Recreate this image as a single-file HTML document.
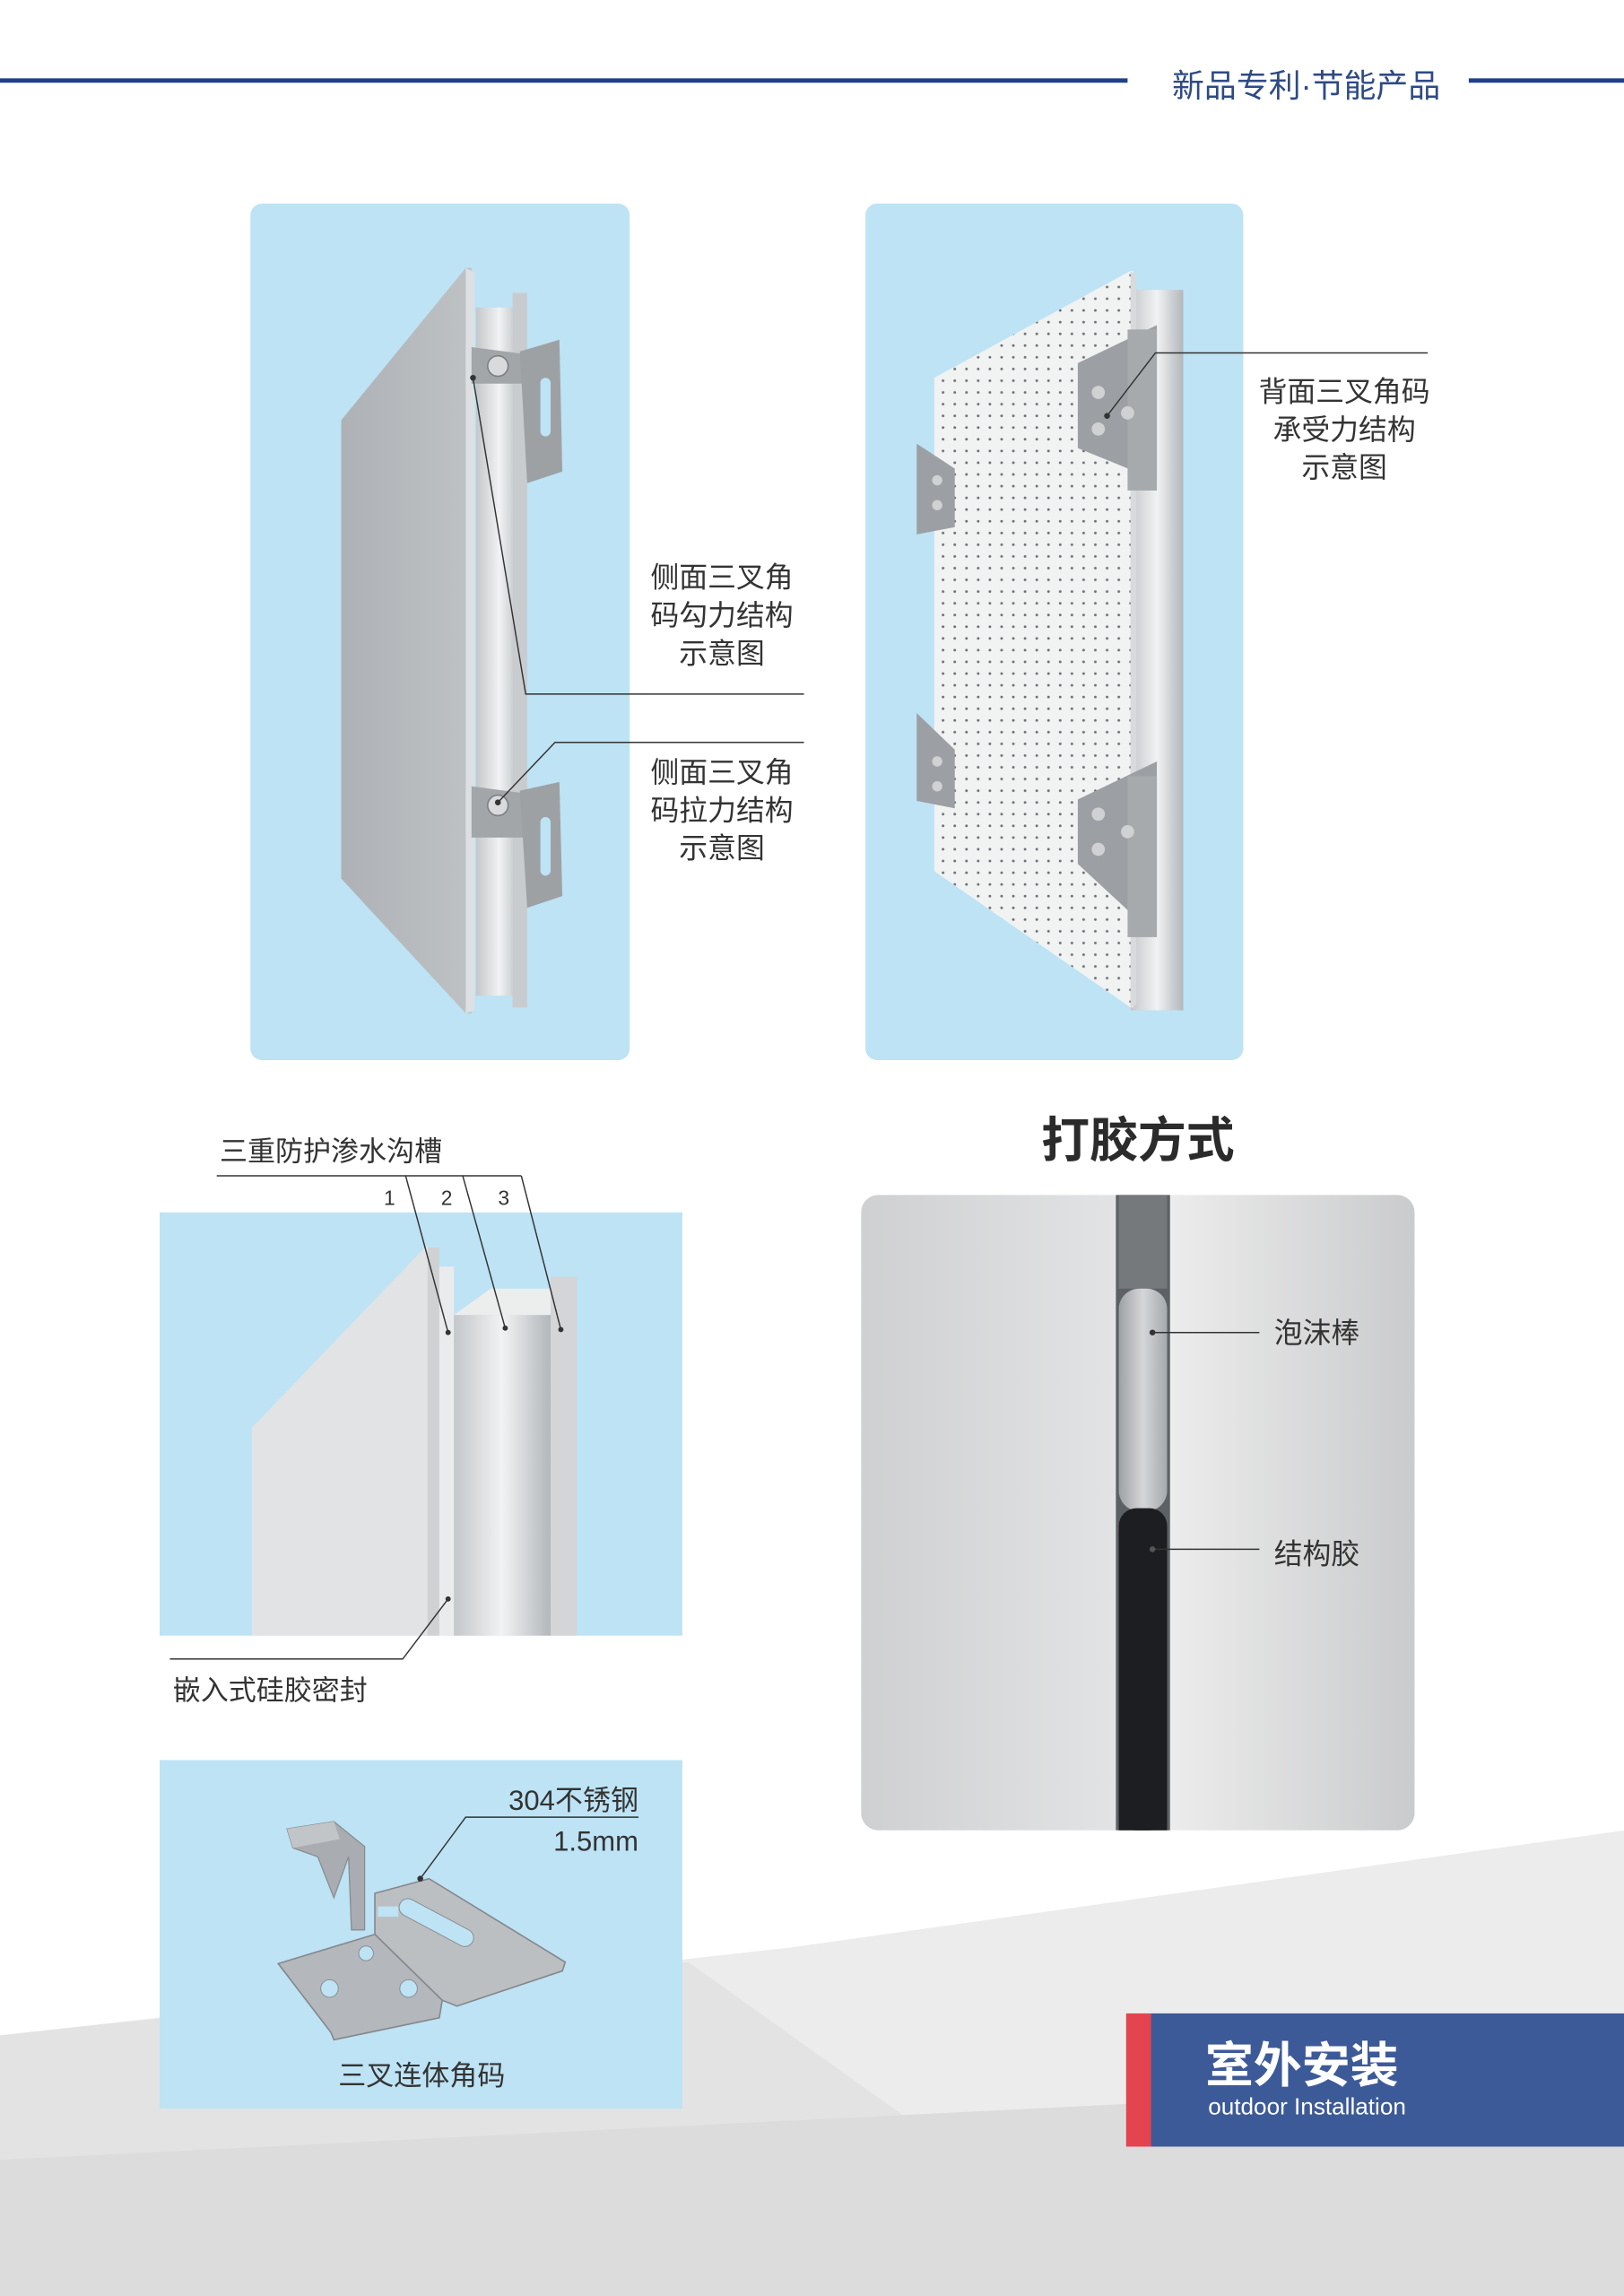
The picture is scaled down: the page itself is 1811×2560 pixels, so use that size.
<!DOCTYPE html>
<html><head><meta charset="utf-8"><style>
html,body{margin:0;padding:0;background:#fff;}
svg{display:block}
text{font-family:"Liberation Sans","Noto Sans CJK SC",sans-serif;}
</style></head><body>
<svg width="1811" height="2560" viewBox="0 0 1109 1568" preserveAspectRatio="none" xmlns="http://www.w3.org/2000/svg">
<defs>
<linearGradient id="metal" x1="0" x2="1"><stop offset="0" stop-color="#c4c7ca"/><stop offset="0.5" stop-color="#f1f2f3"/><stop offset="1" stop-color="#b3b7ba"/></linearGradient>
<linearGradient id="plate" x1="0" x2="1"><stop offset="0" stop-color="#aeb1b5"/><stop offset="1" stop-color="#bfc2c5"/></linearGradient>
<linearGradient id="gl" x1="0" x2="1"><stop offset="0" stop-color="#cfd0d1"/><stop offset="1" stop-color="#e2e3e4"/></linearGradient>
<linearGradient id="gr" x1="0" x2="1"><stop offset="0" stop-color="#ececec"/><stop offset="1" stop-color="#cacbcc"/></linearGradient>
<linearGradient id="foam" x1="0" x2="1"><stop offset="0" stop-color="#9ea1a5"/><stop offset="0.5" stop-color="#d4d6d8"/><stop offset="1" stop-color="#a6a9ad"/></linearGradient>
<pattern id="dots" width="8" height="8" patternUnits="userSpaceOnUse"><rect width="8" height="8" fill="#f1f2f2"/><circle cx="4" cy="4" r="0.9" fill="#6d7074"/></pattern>
<clipPath id="pc"><rect x="588" y="816" width="378" height="434" rx="12"/></clipPath>
</defs>

<!-- bottom background -->
<polygon points="0,1390 540,1330 1109,1250 1109,1568 0,1568" fill="#ececec"/>
<polygon points="0,1390 470,1340 790,1568 0,1568" fill="#e3e3e4"/>
<polygon points="0,1475 1109,1420 1109,1568 0,1568" fill="#dcdcdd"/>

<!-- header -->
<rect x="0" y="53.5" width="770" height="3" fill="#1f3f8a"/>
<rect x="1003" y="53.5" width="106" height="3" fill="#1f3f8a"/>
<text x="892" y="66" font-size="22" fill="#2e4a85" text-anchor="middle">新品专利·节能产品</text>

<!-- left top panel -->
<rect x="171" y="139" width="259" height="585" rx="8" fill="#bde3f5"/>
<polygon points="233,287 318,183 322,183 322,692 318,692 233,600" fill="url(#plate)"/>
<polygon points="318,183 324,186 324,690 318,692" fill="#dde0e2"/>
<rect x="325" y="210" width="32" height="470" fill="url(#metal)"/>
<rect x="350" y="200" width="10" height="488" fill="#c9ccce"/>
<polygon points="322,237 360,242 360,262 322,262" fill="#a3a6a9"/>
<polygon points="355,240 382,232 384,322 360,330" fill="#9ea1a4"/>
<rect x="369" y="258" width="7" height="40" rx="3.5" fill="#bde3f5"/>
<circle cx="340" cy="250" r="7" fill="#d8dadc" stroke="#7c8084"/>
<polygon points="322,537 360,542 360,572 322,572" fill="#a3a6a9"/>
<polygon points="355,540 382,534 384,612 360,620" fill="#9ea1a4"/>
<rect x="369" y="558" width="7" height="40" rx="3.5" fill="#bde3f5"/>
<circle cx="340" cy="550" r="7" fill="#d8dadc" stroke="#7c8084"/>

<!-- left labels -->
<polyline points="323,258 359,474 549,474" fill="none" stroke="#333" stroke-width="0.9"/>
<circle cx="323" cy="258" r="2" fill="#333"/>
<polyline points="340,548 379,507 549,507" fill="none" stroke="#333" stroke-width="0.9"/>
<circle cx="340" cy="548" r="2" fill="#333"/>
<g font-size="19.5" fill="#333" text-anchor="middle">
<text x="493" y="401">侧面三叉角</text><text x="493" y="427">码勾力结构</text><text x="493" y="453">示意图</text>
<text x="493" y="534">侧面三叉角</text><text x="493" y="560">码拉力结构</text><text x="493" y="586">示意图</text>
<text x="918" y="274">背面三叉角码</text><text x="918" y="300">承受力结构</text><text x="918" y="326">示意图</text>
</g>

<!-- right top panel -->
<rect x="591" y="139" width="258" height="585" rx="8" fill="#bde3f5"/>
<rect x="772" y="198" width="36" height="492" fill="url(#metal)"/>
<polygon points="638,258 772,185 774,185 774,688 772,688 638,595" fill="url(#dots)"/>
<polygon points="772,185 776,188 776,686 772,688" fill="#d8dadc"/>
<polygon points="736,248 790,222 790,328 736,306" fill="#9c9fa3"/>
<rect x="770" y="225" width="20" height="110" fill="#a7aaad"/>
<circle cx="750" cy="268" r="4.5" fill="#cfd1d3"/><circle cx="750" cy="293" r="4.5" fill="#cfd1d3"/><circle cx="770" cy="282" r="4.5" fill="#cfd1d3"/>
<polygon points="736,546 790,520 790,640 736,590" fill="#9c9fa3"/>
<rect x="770" y="530" width="20" height="110" fill="#a7aaad"/>
<circle cx="750" cy="556" r="4.5" fill="#cfd1d3"/><circle cx="750" cy="580" r="4.5" fill="#cfd1d3"/><circle cx="770" cy="568" r="4.5" fill="#cfd1d3"/>
<polygon points="626,303 652,320 652,360 626,365" fill="#9c9fa3"/>
<circle cx="640" cy="328" r="3.5" fill="#cfd1d3"/><circle cx="640" cy="345" r="3.5" fill="#cfd1d3"/>
<polygon points="626,487 652,512 652,552 626,547" fill="#9c9fa3"/>
<circle cx="640" cy="520" r="3.5" fill="#cfd1d3"/><circle cx="640" cy="537" r="3.5" fill="#cfd1d3"/>
<polyline points="756,284 789,241 975,241" fill="none" stroke="#333" stroke-width="0.9"/>
<circle cx="756" cy="284" r="2" fill="#333"/>

<!-- lower left panel -->
<rect x="109" y="828" width="357" height="289" fill="#bde3f5"/>
<polygon points="172,975 292,850 292,1117 172,1117" fill="#e2e3e5"/>
<rect x="292" y="852" width="8" height="265" fill="#cfd1d3"/>
<rect x="300" y="865" width="10" height="252" fill="#eaebec"/>
<rect x="310" y="898" width="66" height="219" fill="url(#metal)"/>
<polygon points="310,898 335,880 380,880 376,898" fill="#eceded"/>
<rect x="376" y="872" width="18" height="245" fill="#d3d5d7"/>
<polyline points="148,803 356,803" fill="none" stroke="#333" stroke-width="0.9"/>
<line x1="277" y1="803" x2="306" y2="910" stroke="#333" stroke-width="0.9"/>
<line x1="316" y1="803" x2="345" y2="907" stroke="#333" stroke-width="0.9"/>
<line x1="356" y1="803" x2="383" y2="908" stroke="#333" stroke-width="0.9"/>
<circle cx="306" cy="910" r="1.8" fill="#333"/><circle cx="345" cy="907" r="1.8" fill="#333"/><circle cx="383" cy="908" r="1.8" fill="#333"/>
<text x="150" y="793" font-size="19" fill="#333">三重防护渗水沟槽</text>
<g font-size="14" fill="#333" text-anchor="middle"><text x="266" y="823">1</text><text x="305" y="823">2</text><text x="344" y="823">3</text></g>
<polyline points="306,1092 275,1133 116,1133" fill="none" stroke="#333" stroke-width="0.9"/>
<circle cx="306" cy="1092" r="1.8" fill="#333"/>
<text x="118" y="1161" font-size="19" fill="#333">嵌入式硅胶密封</text>

<!-- bracket panel -->
<rect x="109" y="1202" width="357" height="238" fill="#bde3f5"/>
<!-- hook -->
<polygon points="196,1249 228,1244 249,1261 249,1318 240,1318 238,1268 228,1296 217,1268 200,1262" fill="#a9acb0" stroke="#8a8d91" stroke-width="0.8"/>
<polygon points="196,1249 228,1244 232,1256 200,1262" fill="#c2c5c8"/>
<!-- lower plate -->
<polygon points="190,1341 256,1321 302,1366 300,1378 228,1393 226,1388" fill="#b4b7bb" stroke="#85888c" stroke-width="1"/>
<!-- upper plate -->
<polygon points="256,1293 293,1283 386,1340 384,1346 312,1370 302,1366 256,1321" fill="#bcbfc2" stroke="#85888c" stroke-width="1"/>
<rect x="270" y="1307" width="56" height="12" rx="6" transform="rotate(28 298 1313)" fill="#bde3f5" stroke="#8a8d91" stroke-width="0.6"/>
<rect x="258" y="1302" width="14" height="7" fill="#bde3f5"/>
<circle cx="225" cy="1358" r="6" fill="#bde3f5" stroke="#8a8d91" stroke-width="0.6"/>
<circle cx="250" cy="1334" r="5" fill="#bde3f5" stroke="#8a8d91" stroke-width="0.6"/>
<circle cx="279" cy="1358" r="6" fill="#bde3f5" stroke="#8a8d91" stroke-width="0.6"/>
<polyline points="287,1283 318,1241 436,1241" fill="none" stroke="#333" stroke-width="0.9"/>
<circle cx="287" cy="1283" r="2" fill="#333"/>
<text x="436" y="1236" font-size="19" fill="#333" text-anchor="end">304不锈钢</text>
<text x="436" y="1264" font-size="19" fill="#333" text-anchor="end">1.5mm</text>
<text x="288" y="1424" font-size="19" fill="#333" text-anchor="middle">三叉连体角码</text>

<!-- sealing photo -->
<text x="777" y="790" font-size="33" font-weight="bold" fill="#2b2b2b" text-anchor="middle">打胶方式</text>
<g clip-path="url(#pc)">
<rect x="588" y="816" width="174" height="434" fill="url(#gl)"/>
<rect x="799" y="816" width="167" height="434" fill="url(#gr)"/>
<rect x="762" y="816" width="37" height="434" fill="#5d6064"/>
<rect x="764" y="816" width="33" height="64" fill="#76797c"/>
<rect x="764" y="880" width="33" height="152" rx="14" fill="url(#foam)"/>
<rect x="764" y="1030" width="33" height="220" rx="12" fill="#1c1e22"/>
<rect x="764" y="1045" width="33" height="205" fill="#1c1e22"/>
</g>
<line x1="787" y1="910" x2="860" y2="910" stroke="#333" stroke-width="0.9"/>
<circle cx="787" cy="910" r="2" fill="#333"/>
<line x1="787" y1="1058" x2="860" y2="1058" stroke="#333" stroke-width="0.9"/>
<circle cx="787" cy="1058" r="2" fill="#555"/>
<text x="870" y="917" font-size="19.5" fill="#333">泡沫棒</text>
<text x="870" y="1068" font-size="19.5" fill="#333">结构胶</text>

<!-- badge -->
<rect x="769" y="1375" width="17" height="91" fill="#e4444f"/>
<rect x="786" y="1375" width="323" height="91" fill="#3d5a98"/>
<text x="823" y="1422" font-size="33" font-weight="bold" fill="#fff">室外安装</text>
<text x="825" y="1444" font-size="16" fill="#fff">outdoor Installation</text>
</svg>
</body></html>
